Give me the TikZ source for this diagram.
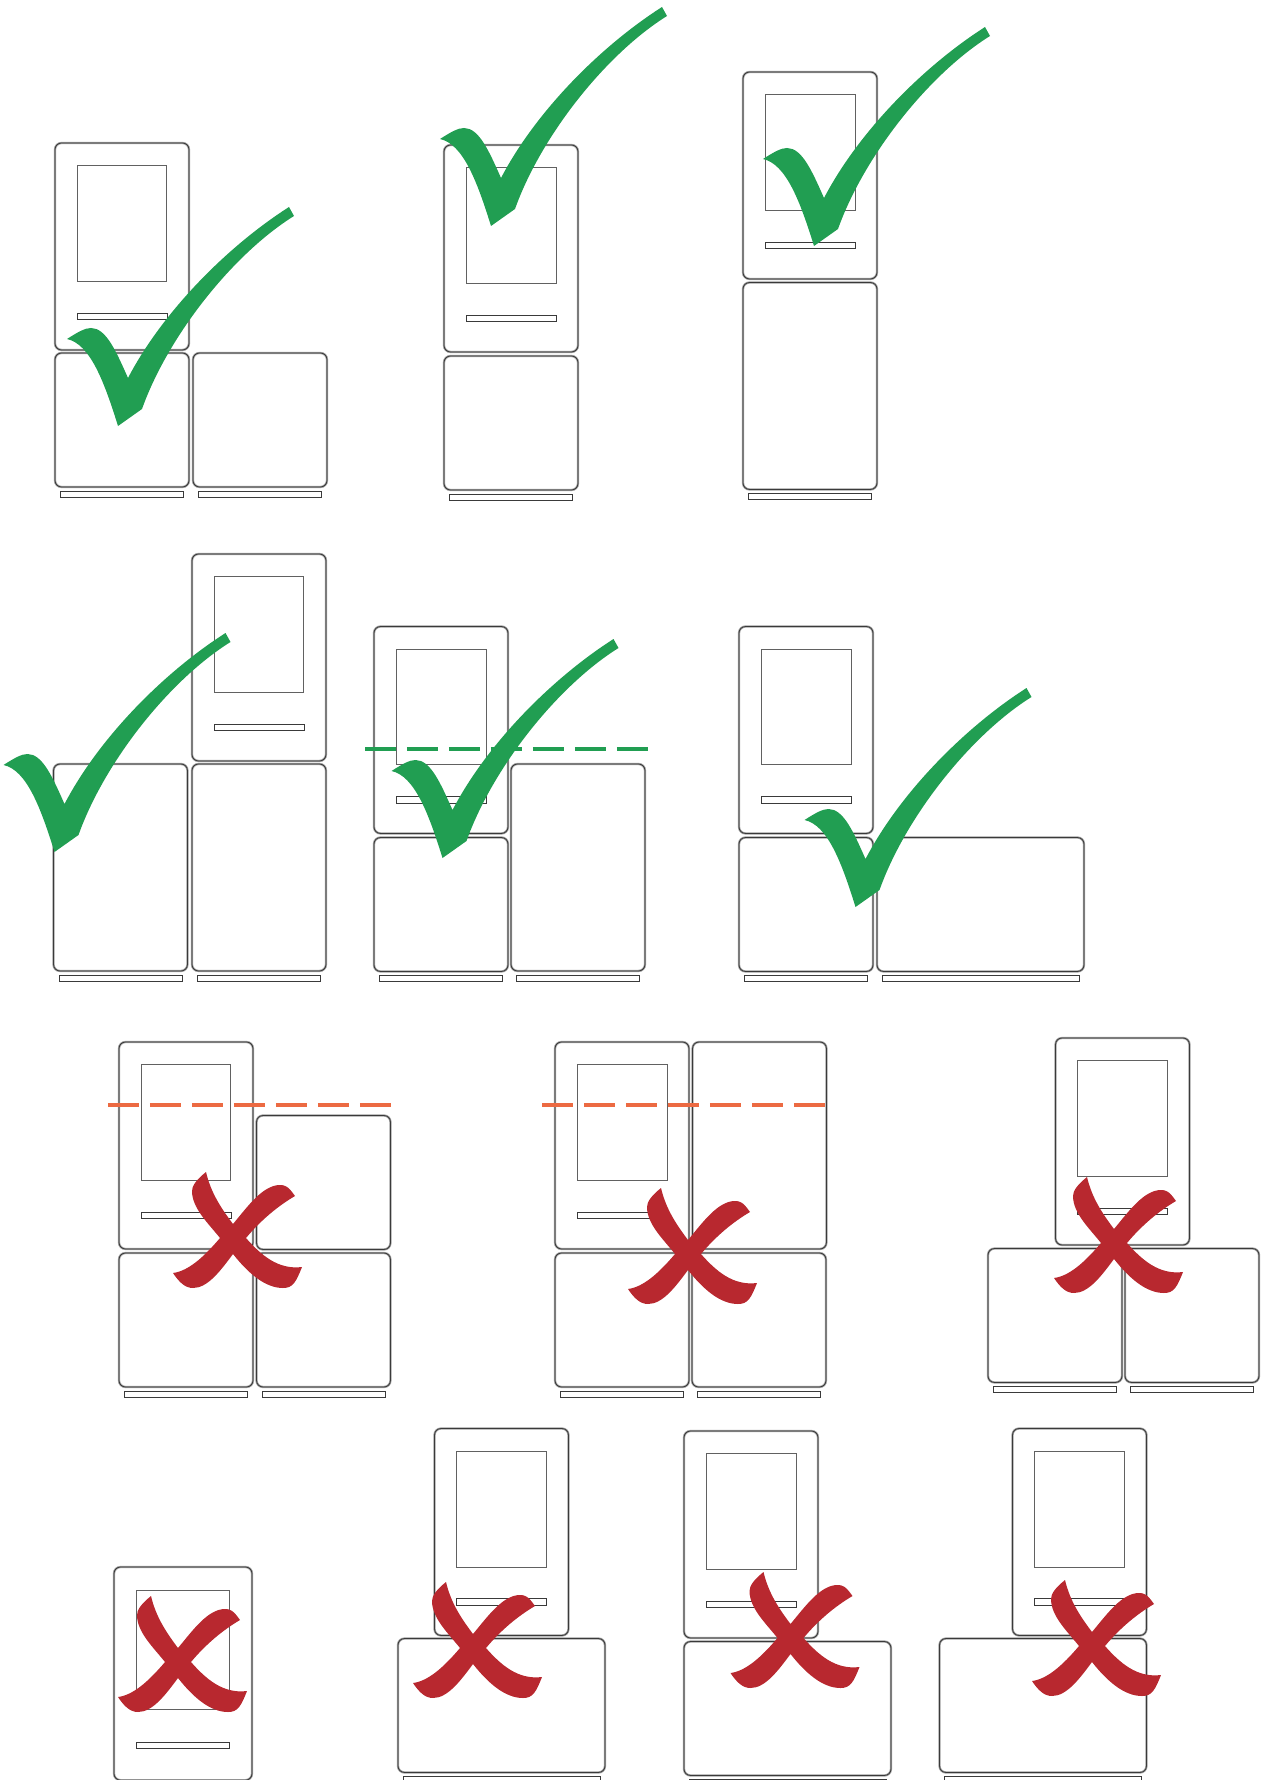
\documentclass[tikz,border=0pt]{standalone}
\usetikzlibrary{positioning}
\definecolor{okgreen}{HTML}{219E52}
\definecolor{badred}{HTML}{B8282F}
\definecolor{cutorange}{HTML}{EC6A42}
\definecolor{edge}{HTML}{3A3A3A}

\begin{document}
\begin{tikzpicture}[
    x=0.02cm, y=-0.02cm,
    cell/.style={rectangle, draw=edge, line width=0.45pt, rounded corners=0.13cm, inner sep=0pt, outer sep=0pt,
      anchor=north west, preaction={draw=gray!75, line width=1.3pt}},
    sqcell/.style={cell, minimum width=2.68cm, minimum height=2.68cm},
    tallcell/.style={cell, minimum width=2.68cm, minimum height=4.14cm},
    widecell/.style={cell, minimum width=4.14cm, minimum height=2.68cm},
    window/.style={rectangle, draw=edge!80, line width=0.55pt, inner sep=0pt, outer sep=0pt, minimum width=1.8cm, minimum height=2.32cm},
    slot/.style={rectangle, draw=edge, line width=0.5pt, inner sep=0pt, outer sep=0pt, minimum width=1.8cm, minimum height=0.13cm},
    foot/.style={slot, minimum width=2.46cm, minimum height=0.12cm, below=0.08cm of #1},
    widefoot/.style={slot, minimum width=3.94cm, minimum height=0.12cm, below=0.08cm of #1},
    cutline/.style={line width=2pt, dash pattern=on 0.62cm off 0.22cm},
    unit/.pic={
      \node[tallcell] (-body) at (0,0) {};
      \node[window, below=0.45cm of -body.north] (-window) {};
      \node[slot, above=0.61cm of -body.south] (-slot) {};
    },
    tick/.pic={
      \fill[okgreen] (0,0) .. controls (-14,-45) and (-28,-82) .. (-51,-87)
        .. controls (-40,-94) and (-33,-98) .. (-27,-98)
        .. controls (-12,-98) and (-2,-75) .. (10,-48)
        .. controls (45,-115) and (110,-180) .. (171,-219) -- (176,-210)
        .. controls (115,-172) and (50,-90) .. (24,-17) -- cycle;
    },
    cross/.pic={
      \fill[badred] (-27,-66) .. controls (-37,-58) and (-41,-52) .. (-41,-47)
        .. controls (-41,-30) and (-25,-15) .. (-13,0)
        .. controls (-30,20) and (-45,33) .. (-60,35)
        .. controls (-54,44) and (-48,50) .. (-40,50)
        .. controls (-25,50) and (-12,32) .. (0,16)
        .. controls (15,35) and (32,50) .. (50,50)
        .. controls (60,50) and (63,44) .. (69,29)
        .. controls (45,32) and (28,17) .. (13,0)
        .. controls (28,-18) and (45,-32) .. (62,-42)
        .. controls (55,-52) and (52,-53) .. (47,-53)
        .. controls (30,-53) and (15,-32) .. (0,-14)
        .. controls (-12,-30) and (-22,-45) .. (-27,-66) -- cycle;
    }
  ]
    \useasboundingbox (0,0) rectangle (1263,1780);

    \pic (a) at (55,143) {unit};
    \node[sqcell] (a1) at (55,353) {};
    \node[sqcell] (a2) at (193,353) {};
    \node[foot=a1] (a1f) {};
    \node[foot=a2] (a2f) {};
    \pic (at) at (118,426) {tick};

    \pic (b) at (444,145) {unit};
    \node[sqcell] (b1) at (444,356) {};
    \node[foot=b1] (b1f) {};
    \pic (bt) at (491,226) {tick};

    \pic (c) at (743,72) {unit};
    \node[tallcell] (c1) at (743,282.5) {};
    \node[foot=c1] (c1f) {};
    \pic (ct) at (814,246) {tick};

    \node[tallcell] (d1) at (53.5,764) {};
    \pic (d) at (192,554) {unit};
    \node[tallcell] (d2) at (192,764) {};
    \node[foot=d1] (d1f) {};
    \node[foot=d2] (d2f) {};
    \pic (dt) at (54.5,852) {tick};

    \pic (e) at (374,626.5) {unit};
    \node[sqcell] (e1) at (374,837.5) {};
    \node[tallcell] (e2) at (511,764) {};
    \node[foot=e1] (e1f) {};
    \node[foot=e2] (e2f) {};
    \coordinate (ecutl) at (365,749);
    \coordinate (ecutr) at (658,749);
    \draw[cutline, okgreen] (ecutl) -- (ecutr);
    \pic (et) at (442.5,858) {tick};

    \pic (f) at (739,626.5) {unit};
    \node[sqcell] (f1) at (739,837.5) {};
    \node[widecell] (f2) at (877,837.5) {};
    \node[foot=f1] (f1f) {};
    \node[widefoot=f2] (f2f) {};
    \pic (ft) at (855.5,907) {tick};

    \pic (g) at (119,1042) {unit};
    \node[sqcell] (g1) at (119,1253) {};
    \node[sqcell] (g2) at (256.5,1115.5) {};
    \node[sqcell] (g3) at (256.5,1253) {};
    \node[foot=g1] (g1f) {};
    \node[foot=g3] (g3f) {};
    \coordinate (gcutl) at (108,1105);
    \coordinate (gcutr) at (400,1105);
    \draw[cutline, cutorange] (gcutl) -- (gcutr);
    \pic (gx) at (233,1238) {cross};

    \pic (h) at (555,1042) {unit};
    \node[sqcell] (h1) at (555,1253) {};
    \node[tallcell] (h2) at (692.5,1042) {};
    \node[sqcell] (h3) at (692,1253) {};
    \node[foot=h1] (h1f) {};
    \node[foot=h3] (h3f) {};
    \coordinate (hcutl) at (542,1105);
    \coordinate (hcutr) at (835,1105);
    \draw[cutline, cutorange] (hcutl) -- (hcutr);
    \pic (hx) at (688,1254) {cross};

    \pic (i) at (1055.5,1038) {unit};
    \node[sqcell] (i1) at (988,1248.5) {};
    \node[sqcell] (i2) at (1125,1248.5) {};
    \node[foot=i1] (i1f) {};
    \node[foot=i2] (i2f) {};
    \pic (ix) at (1114,1243) {cross};

    \pic[scale=1.03, transform shape] (j) at (114,1567) {unit};
    \pic (jx) at (178,1662) {cross};

    \pic (k) at (434.5,1428.5) {unit};
    \node[widecell] (k1) at (398,1638.5) {};
    \node[widefoot=k1] (k1f) {};
    \pic (kx) at (473,1648) {cross};

    \pic (l) at (684,1431) {unit};
    \node[widecell] (l1) at (684,1641.5) {};
    \node[widefoot=l1] (l1f) {};
    \pic (lx) at (790.5,1638) {cross};

    \pic (m) at (1012.5,1428.5) {unit};
    \node[widecell] (m1) at (939.5,1638.5) {};
    \node[widefoot=m1] (m1f) {};
    \pic (mx) at (1092,1646) {cross};
  \end{tikzpicture}
\end{document}
